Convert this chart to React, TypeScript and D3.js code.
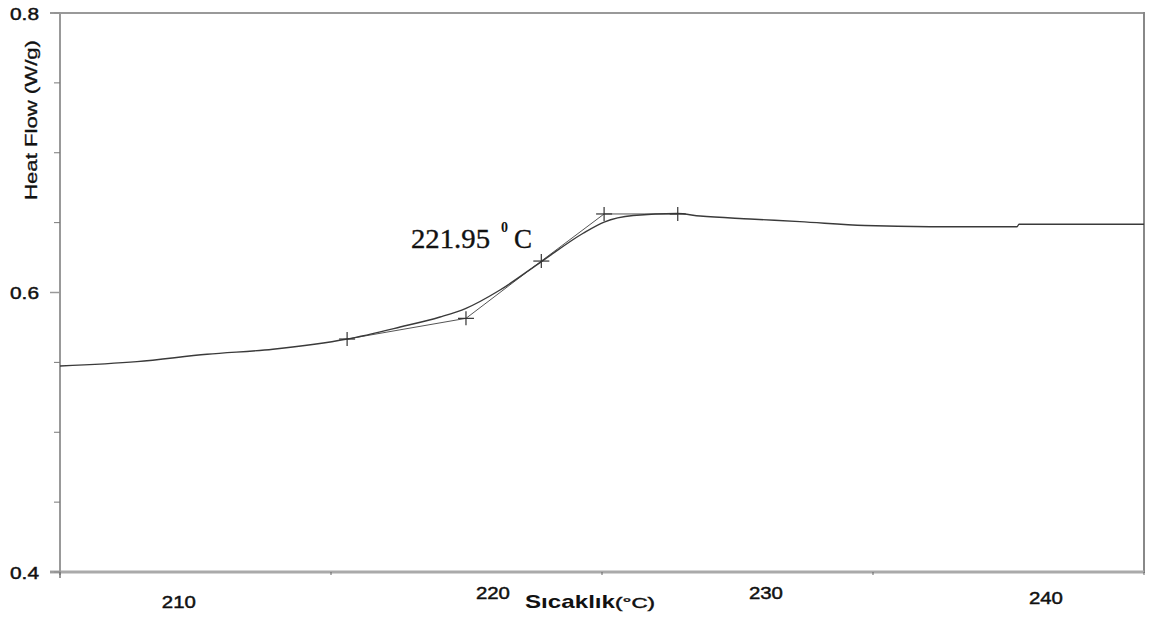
import React from "react";
import * as d3 from "d3";

// DSC curve (temperature °C, heat flow W/g)
const curveTemp = [204.7, 207.46, 209.97, 212.33, 214.99, 216.89, 218.32, 219.25, 220.47, 221.98, 223.45, 224.2, 225.24, 226.81, 227.64, 229.43, 231.22, 233.55, 235.88, 239.0, 239.07, 243.55];
const curveFlow = [0.5474, 0.5505, 0.5558, 0.5594, 0.5667, 0.5753, 0.5825, 0.5887, 0.6018, 0.6225, 0.6424, 0.6504, 0.6551, 0.6565, 0.6547, 0.6526, 0.6507, 0.6479, 0.6471, 0.6471, 0.6488, 0.6488];

// tangent construction points (the "+" marks)
const markTemp = [214.99, 219.25, 221.95, 224.2, 226.84];
const markFlow = [0.5667, 0.5815, 0.6225, 0.6562, 0.6562];

const xTickLabels = [210, 220, 230, 240];
const yTickLabels = [0.4, 0.6, 0.8];
const yMinorStep = 0.05;

const W = 1149;
const H = 618;
const left = 60, right = 1144, top = 13, bottom = 572;

// the scanned labels sit a bit off their ticks
const xLabelNudge = [[-29, 9], [6, 0], [0, 0], [1, 5]];

export default function App() {
  const x = d3.scaleLinear().domain([204.7, 243.55]).range([left, right]);
  const y = d3.scaleLinear().domain([0.4, 0.8]).range([bottom, top]);

  const curve = curveTemp.map((t, i) => [t, curveFlow[i]] as [number, number]);
  const marks = markTemp.map((t, i) => [t, markFlow[i]] as [number, number]);

  const line = d3.line<[number, number]>()
    .x(d => x(d[0]))
    .y(d => y(d[1]))
    .curve(d3.curveMonotoneX);
  const straight = d3.line<[number, number]>()
    .x(d => x(d[0]))
    .y(d => y(d[1]));

  const minor = d3.range(0.4, 0.8001, yMinorStep);
  const xd = x.domain();
  const xTicks = d3.range(0, 5).map(i => xd[0] + (xd[1] - xd[0]) * i / 4);

  const font = "Arial, 'Liberation Sans', sans-serif";
  const serif = "'Liberation Serif', 'Times New Roman', serif";
  // scanned text looks a little heavy
  const heavy = { stroke: "#111", strokeWidth: 0.45 };

  return (
    <div style={{ position: "absolute", left: 0, top: 0 }}>
      <svg width={W} height={H} style={{ display: "block", background: "#fff" }}>
        {/* frame */}
        <line x1={left - 10} x2={right} y1={top} y2={top} stroke="#999" strokeWidth={2} />
        <line x1={right} x2={right} y1={top - 1} y2={bottom + 1} stroke="#888" strokeWidth={2} />
        <line x1={left - 10} x2={right} y1={bottom} y2={bottom} stroke="#aaa" strokeWidth={3} />
        <line x1={left} x2={left} y1={top} y2={bottom + 6} stroke="#999" strokeWidth={2} />

        {/* y ticks */}
        {minor.map((v, i) => (
          <line key={"m" + i} x1={left - 6} x2={left} y1={y(v)} y2={y(v)} stroke="#777" strokeWidth={1} />
        ))}
        {yTickLabels.map(v => (
          <g key={"y" + v}>
            <line x1={left - 10} x2={left} y1={y(v)} y2={y(v)} stroke="#999" strokeWidth={1.5} />
            <text x={39} y={y(v) + 6.5} textAnchor="end" fontFamily={font} fontSize={17}
              fill="#111" {...heavy} textLength={29} lengthAdjust="spacingAndGlyphs">{v.toFixed(1)}</text>
          </g>
        ))}

        {/* x ticks */}
        {xTicks.map((t, i) => (
          <line key={"xt" + i} x1={x(t)} x2={x(t)} y1={bottom} y2={bottom + 3} stroke="#666" strokeWidth={1} />
        ))}
        {xTickLabels.map((t, i) => (
          <text key={"xl" + t} x={x(t) + xLabelNudge[i][0]} y={599 + xLabelNudge[i][1]} textAnchor="middle"
            fontFamily={font} fontSize={16.5} fill="#111" {...heavy} textLength={34} lengthAdjust="spacingAndGlyphs">{t}</text>
        ))}

        {/* axis titles */}
        <text transform="translate(37,120) rotate(-90)" textAnchor="middle" fontFamily={font} fontSize={16.5}
          fill="#111" stroke="#111" strokeWidth={0.3} textLength={160} lengthAdjust="spacingAndGlyphs">Heat Flow (W/g)</text>
        <text x={525} y={608} fontFamily={font} fontSize={18.5} fontWeight="bold" fill="#111"
          textLength={90} lengthAdjust="spacingAndGlyphs">Sıcaklık</text>
        <text x={615} y={608} fontFamily={font} fontSize={14.5} fill="#111" {...heavy}
          textLength={40} lengthAdjust="spacingAndGlyphs">(°C)</text>

        {/* tangent construction */}
        <path d={straight(marks) || ""} fill="none" stroke="#555" strokeWidth={1} />
        {/* measured curve */}
        <path d={line(curve) || ""} fill="none" stroke="#3a3a3a" strokeWidth={1.4} />
        {marks.map((d, i) => (
          <g key={"k" + i} stroke="#333" strokeWidth={1.2}>
            <line x1={x(d[0]) - 8} x2={x(d[0]) + 8} y1={y(d[1])} y2={y(d[1])} />
            <line x1={x(d[0])} x2={x(d[0])} y1={y(d[1]) - 7} y2={y(d[1]) + 7} />
          </g>
        ))}

        {/* onset annotation */}
        <text x={411} y={248} fontFamily={serif} fontSize={27} fill="#111" stroke="#111" strokeWidth={0.35}
          textLength={79} lengthAdjust="spacingAndGlyphs">221.95</text>
        <text x={501} y={232} fontFamily={serif} fontSize={14} fontWeight="bold" fill="#111">0</text>
        <text x={514} y={248} fontFamily={serif} fontSize={27} fill="#111" stroke="#111" strokeWidth={0.35}>C</text>
      </svg>
    </div>
  );
}
